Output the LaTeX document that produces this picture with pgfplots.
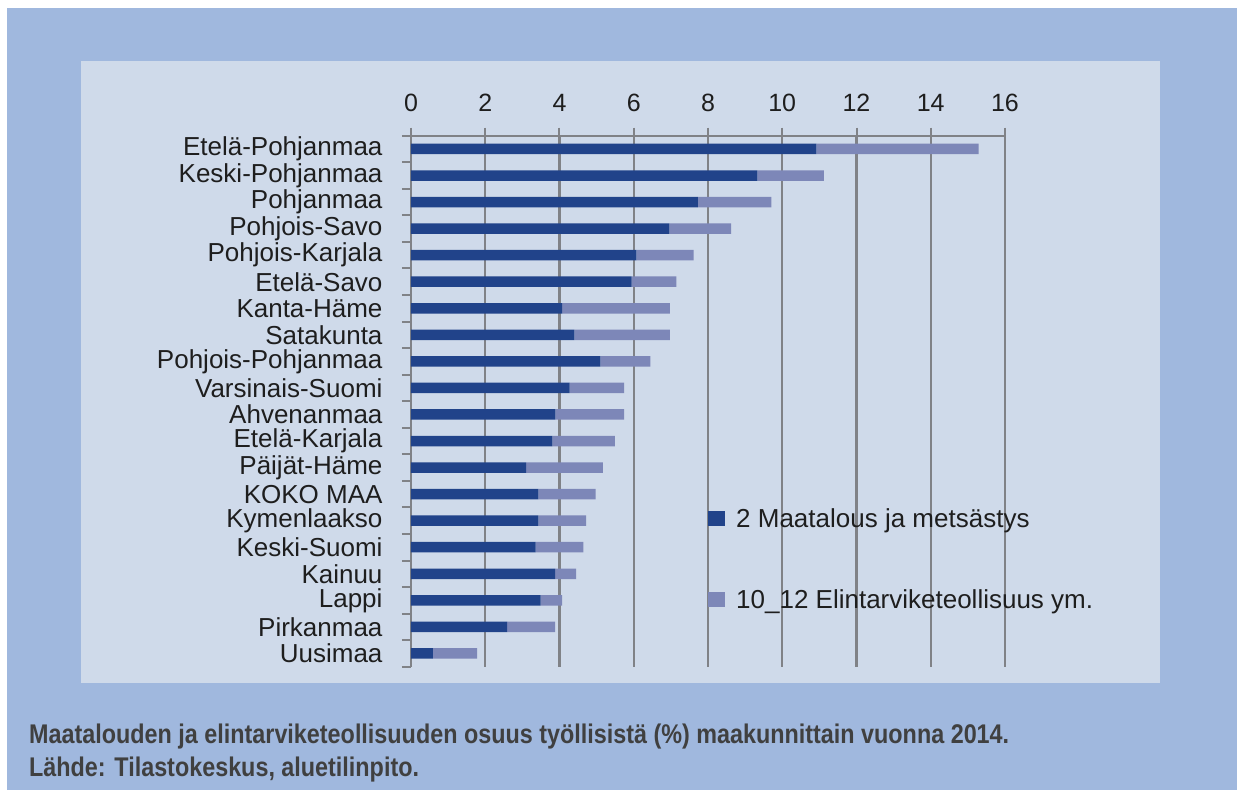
\documentclass[border=0pt]{standalone}
\usepackage{pgfplots}
\pgfplotsset{compat=1.18}
\usepackage{fontspec}
\setmainfont{Liberation Sans}
\definecolor{outerbg}{RGB}{160,184,222}
\definecolor{innerbg}{RGB}{207,218,234}
\definecolor{darkbar}{RGB}{33,67,138}
\definecolor{lightbar}{RGB}{125,135,184}
\definecolor{gridc}{RGB}{128,130,135}
\definecolor{captc}{RGB}{64,64,64}
\definecolor{labc}{RGB}{30,30,30}
\newlength\capw
\begin{document}
\settowidth\capw{\bfseries\fontsize{27}{32}\selectfont Maatalouden ja elintarviketeollisuuden osuus työllisistä (\%) maakunnittain vuonna 2014.}%
\pgfmathsetmacro\capsx{980/\the\capw}%
\begin{tikzpicture}
\fill[white] (-411pt,-129.3pt) rectangle (826pt,666.7pt);
\fill[outerbg] (-404pt,-123.3pt) rectangle (826pt,658.7pt);
\fill[innerbg] (-330pt,-15.8pt) rectangle (749pt,605.7pt);
\begin{axis}[
  at={(0pt,0pt)}, anchor=south west,
  scale only axis, width=594pt, height=531pt,
  xmin=0, xmax=16, ymin=-0.5, ymax=19.5,
  xbar stacked, bar width=10.5pt,
  axis x line*=top, axis y line*=left,
  axis line style={gridc, line width=2pt},
  xtick={0,2,...,16},
  xmajorgrids, grid style={gridc, line width=2.2pt},
  tick align=outside,
  major tick length=8pt, minor tick length=9pt,
  major x tick style={gridc, line width=2pt},
  major y tick style={draw=none},
  minor ytick={-0.5,0.5,...,19.5},
  minor y tick style={gridc, line width=2pt},
  ytick={0,...,19},
  yticklabels={Uusimaa,Pirkanmaa,Lappi,Kainuu,Keski-Suomi,Kymenlaakso,KOKO MAA,Päijät-Häme,Etelä-Karjala,Ahvenanmaa,Varsinais-Suomi,Pohjois-Pohjanmaa,Satakunta,Kanta-Häme,Etelä-Savo,Pohjois-Karjala,Pohjois-Savo,Pohjanmaa,Keski-Pohjanmaa,Etelä-Pohjanmaa},
  ticklabel style={font=\fontsize{26}{30}\selectfont, text=labc},
  yticklabel style={xshift=-17pt},
  xticklabel style={font=\fontsize{25}{30}\selectfont, anchor=base, yshift=16pt},
  /pgf/number format/assume math mode=true,
  legend style={at={(0.5,0.3025)}, anchor=north west, draw=none, fill=none,
    font=\fontsize{26}{30}\selectfont, text=labc, row sep=57pt, inner sep=0pt,
    /tikz/every odd column/.append style={column sep=9pt}},
  legend cell align=left,
  legend image code/.code={\fill[#1,draw=none] (0pt,-7.5pt) rectangle (17pt,7.5pt);},
]
\addplot[fill=darkbar, draw=none] coordinates {
(0.59,0) (2.59,1) (3.49,2) (3.88,3) (3.36,4) (3.43,5) (3.43,6) (3.10,7) (3.81,8) (3.89,9)
(4.27,10) (5.10,11) (4.40,12) (4.07,13) (5.94,14) (6.07,15) (6.96,16) (7.73,17) (9.33,18) (10.92,19)};
\addlegendentry{2 Maatalous ja metsästys}
\addplot[fill=lightbar, draw=none] coordinates {
(1.19,0) (1.29,1) (0.58,2) (0.57,3) (1.28,4) (1.29,5) (1.54,6) (2.07,7) (1.68,8) (1.85,9)
(1.47,10) (1.35,11) (2.57,12) (2.90,13) (1.21,14) (1.54,15) (1.66,16) (1.98,17) (1.79,18) (4.37,19)};
\addlegendentry{10\_12 Elintarviketeollisuus ym.}
\end{axis}
\node[anchor=base west, inner sep=0pt, text=captc, font=\bfseries\fontsize{27}{32}\selectfont] at (-382pt,-76.3pt) {\scalebox{\capsx}[1]{Maatalouden ja elintarviketeollisuuden osuus työllisistä (\%) maakunnittain vuonna 2014.}};
\node[anchor=base west, inner sep=0pt, text=captc, font=\bfseries\fontsize{27}{32}\selectfont] at (-382pt,-109.3pt) {\scalebox{\capsx}[1]{Lähde: Tilastokeskus, aluetilinpito.}};
\end{tikzpicture}
\end{document}
